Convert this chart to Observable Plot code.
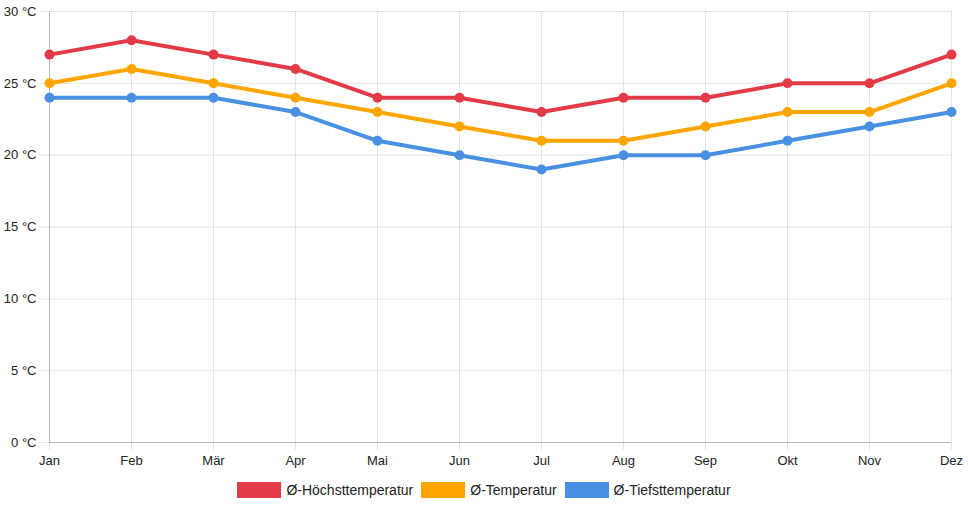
<!DOCTYPE html>
<html>
<head>
<meta charset="utf-8">
<script src="https://cdn.jsdelivr.net/npm/d3@7"></script>
<script src="https://cdn.jsdelivr.net/npm/@observablehq/plot@0.6"></script>
<style>
  body { margin: 0; background: #fff; font-family: "Liberation Sans", Arial, sans-serif; }
  #legend { display: flex; justify-content: center; align-items: center; height: 36px; font-size: 14px; color: #222; }
  .item { display: flex; align-items: center; margin: 0 4px; }
  .sw { width: 44px; height: 16px; margin-right: 5px; }
</style>
</head>
<body>
<div id="chart"></div>
<div id="legend"></div>
<script>
const months = ["Jan","Feb","Mär","Apr","Mai","Jun","Jul","Aug","Sep","Okt","Nov","Dez"];
const seriesNames = ["Ø-Höchsttemperatur","Ø-Temperatur","Ø-Tiefsttemperatur"];
const seriesColors = ["#e23b47","#fea500","#4a90e2"];
const highTemps = [27,28,27,26,24,24,23,24,24,25,25,27];
const avgTemps  = [25,26,25,24,23,22,21,21,22,23,23,25];
const lowTemps  = [24,24,24,23,21,20,19,20,20,21,22,23];
const yTicks = [0,5,10,15,20,25,30];

const allSeries = [highTemps, avgTemps, lowTemps];
const data = [];
allSeries.forEach((vals, si) => vals.forEach((v, i) => data.push({month: months[i], value: v, series: seriesNames[si]})));

const chart = Plot.plot({
  width: 968,
  height: 472,
  marginTop: 11,
  marginBottom: 30,
  marginLeft: 49,
  marginRight: 17,
  style: {fontFamily: "Liberation Sans, Arial, sans-serif", fontSize: "13px", color: "#222"},
  x: {type: "point", domain: months, padding: 0},
  y: {domain: [0, 30]},
  color: {domain: seriesNames, range: seriesColors},
  marks: [
    Plot.gridY(yTicks, {stroke: "#000", strokeOpacity: 0.1}),
    Plot.gridX(months, {stroke: "#000", strokeOpacity: 0.1}),
    Plot.ruleY([0], {stroke: "#000", strokeOpacity: 0.18}),
    Plot.ruleX([months[0]], {stroke: "#000", strokeOpacity: 0.18}),
    Plot.axisY(yTicks, {tickFormat: d => d + " °C", tickSize: 10, tickPadding: 3, stroke: "#000", strokeOpacity: 0.1, fill: "#222", label: null}),
    Plot.axisX(months, {tickSize: 8, tickPadding: 5, stroke: "#000", strokeOpacity: 0.1, fill: "#222", label: null}),
    Plot.line(data, {x: "month", y: "value", z: "series", stroke: "series", strokeWidth: 4}),
    Plot.dot(data, {x: "month", y: "value", fill: "series", r: 5})
  ]
});
document.getElementById("chart").append(chart);

const legend = document.getElementById("legend");
seriesNames.forEach((name, i) => {
  const it = document.createElement("div");
  it.className = "item";
  const sw = document.createElement("div");
  sw.className = "sw";
  sw.style.background = seriesColors[i];
  const t = document.createElement("span");
  t.textContent = name;
  it.append(sw, t);
  legend.append(it);
});
</script>
</body>
</html>
